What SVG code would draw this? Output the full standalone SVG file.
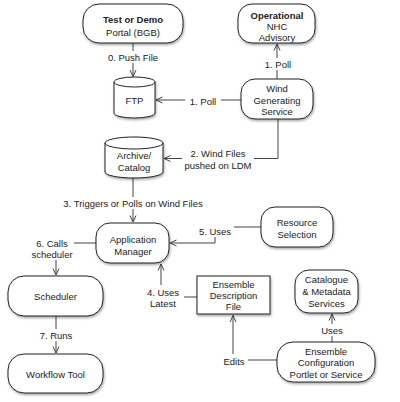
<svg xmlns="http://www.w3.org/2000/svg" width="400" height="402" viewBox="0 0 400 402">
<defs>
<filter id="sh" x="-10%" y="-10%" width="130%" height="140%">
<feDropShadow dx="0.8" dy="1.6" stdDeviation="0.9" flood-color="#000" flood-opacity="0.35"/>
</filter>
<marker id="arr" markerWidth="10" markerHeight="10" refX="7.5" refY="4" orient="auto" markerUnits="userSpaceOnUse">
<path d="M1,1 L7.5,4 L1,7" fill="none" stroke="#444" stroke-width="1"/>
</marker>
</defs>
<style>
.n{fill:#fff;stroke:#222;stroke-width:1;filter:url(#sh)}
.t{font-family:"Liberation Sans",Arial,sans-serif;font-size:9.5px;fill:#222;text-anchor:middle}
.b{font-weight:bold}
.c{fill:none;stroke:#444;stroke-width:1}
.bg{fill:#fff}
</style>
<rect width="400" height="402" fill="#fff"/>

<g id="connectors">
<path class="c" d="M133,43 V76.5" marker-end="url(#arr)"/>
<path class="c" d="M241,100 H156" marker-end="url(#arr)"/>
<path class="c" d="M277,79 V44" marker-end="url(#arr)"/>
<path class="c" d="M278,119 V158.5 H164" marker-end="url(#arr)"/>
<path class="c" d="M133,178 V222" marker-end="url(#arr)"/>
<path class="c" d="M261,227 H215 V243 H170" marker-end="url(#arr)"/>
<path class="c" d="M197,297 H161 V264" marker-end="url(#arr)"/>
<path class="c" d="M277,360 H233 V315.5" marker-end="url(#arr)"/>
<path class="c" d="M332,342 V314" marker-end="url(#arr)"/>
<path class="c" d="M96,243 H56 V275" marker-end="url(#arr)"/>
<path class="c" d="M56,316 V353" marker-end="url(#arr)"/>

<rect class="bg" x="103" y="51" width="60" height="12"/>
<text class="t" x="133" y="60.5">0. Push File</text>
<rect class="bg" x="185" y="94" width="36" height="12"/>
<text class="t" x="203" y="104.5">1. Poll</text>
<rect class="bg" x="260" y="58" width="36" height="12"/>
<text class="t" x="278" y="67.5">1. Poll</text>
<rect class="bg" x="182" y="146" width="72" height="24"/>
<text class="t" x="218" y="156.5">2. Wind Files</text>
<text class="t" x="218" y="168.5">pushed on LDM</text>
<rect class="bg" x="62" y="197" width="142" height="12"/>
<text class="t" x="133" y="206.5">3. Triggers or Polls on Wind Files</text>
<rect class="bg" x="196" y="225" width="38" height="12"/>
<text class="t" x="215" y="234.5">5. Uses</text>
<rect class="bg" x="144" y="285" width="40" height="24"/>
<text class="t" x="163" y="295.5">4. Uses</text>
<text class="t" x="163" y="306.5">Latest</text>
<rect class="bg" x="221" y="354" width="27" height="12"/>
<text class="t" x="234" y="364.5">Edits</text>
<rect class="bg" x="318" y="324" width="28" height="12"/>
<text class="t" x="332" y="333.5">Uses</text>
<rect class="bg" x="31" y="236" width="43" height="24"/>
<text class="t" x="52" y="246.5">6. Calls</text>
<text class="t" x="52" y="257.5">scheduler</text>
<rect class="bg" x="36" y="329" width="40" height="12"/>
<text class="t" x="56" y="338.5">7. Runs</text>
</g>

<g id="test-demo">
<rect class="n" x="83" y="4" width="100" height="39" rx="16"/>
<text class="t b" x="133" y="23">Test or Demo</text>
<text class="t" x="133" y="35.5">Portal (BGB)</text>
</g>

<g id="nhc">
<rect class="n" x="238" y="4" width="77" height="39" rx="14"/>
<text class="t b" x="277" y="18.5">Operational</text>
<text class="t" x="277" y="30">NHC</text>
<text class="t" x="277" y="41">Advisory</text>
</g>

<g id="ftp">
<path class="n" d="M114,82 A20.5,5 0 0 1 155,82 V113 A20.5,5 0 0 1 114,113 Z"/>
<path class="c" style="stroke:#222" d="M114,82 A20.5,5 0 0 0 155,82"/>
<text class="t" x="134.5" y="103.5">FTP</text>
</g>

<g id="wind">
<rect class="n" x="241" y="79" width="72" height="40" rx="14"/>
<text class="t" x="277" y="91.5">Wind</text>
<text class="t" x="277" y="103.5">Generating</text>
<text class="t" x="277" y="115">Service</text>
</g>

<g id="archive">
<path class="n" d="M105,143 A29,6 0 0 1 163,143 V172 A29,6 0 0 1 105,172 Z"/>
<path class="c" style="stroke:#222" d="M105,143 A29,6 0 0 0 163,143"/>
<text class="t" x="134" y="158.5">Archive/</text>
<text class="t" x="134" y="170.5">Catalog</text>
</g>

<g id="app-manager">
<rect class="n" x="96" y="223" width="73" height="40" rx="14"/>
<text class="t" x="133" y="242.5">Application</text>
<text class="t" x="133" y="254.5">Manager</text>
</g>

<g id="resource">
<rect class="n" x="261" y="207" width="72" height="40" rx="14"/>
<text class="t" x="297" y="225.5">Resource</text>
<text class="t" x="297" y="237.5">Selection</text>
</g>

<g id="ensemble-desc">
<rect class="n" x="197" y="276" width="73" height="38"/>
<text class="t" x="233.5" y="287.5">Ensemble</text>
<text class="t" x="233.5" y="299">Description</text>
<text class="t" x="233.5" y="310">File</text>
</g>

<g id="catalogue">
<rect class="n" x="295" y="270" width="63" height="43" rx="14"/>
<text class="t" x="326.5" y="282.5">Catalogue</text>
<text class="t" x="326.5" y="295">&amp; Metadata</text>
<text class="t" x="326.5" y="306.5">Services</text>
</g>

<g id="ensemble-config">
<rect class="n" x="277" y="342" width="98" height="40" rx="16"/>
<text class="t" x="326" y="354.5">Ensemble</text>
<text class="t" x="326" y="366">Configuration</text>
<text class="t" x="326" y="377.5">Portlet or Service</text>
</g>

<g id="scheduler">
<rect class="n" x="8" y="276" width="95" height="40" rx="16"/>
<text class="t" x="55.5" y="300">Scheduler</text>
</g>

<g id="workflow">
<rect class="n" x="8" y="354" width="95" height="39" rx="16"/>
<text class="t" x="55.5" y="378">Workflow Tool</text>
</g>
</svg>
